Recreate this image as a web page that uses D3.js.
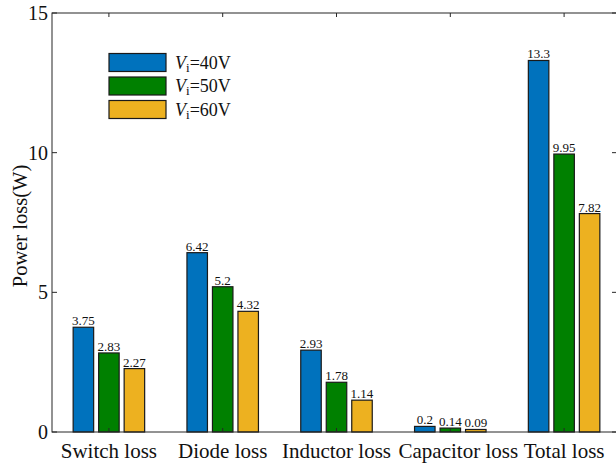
<!DOCTYPE html>
<html><head><meta charset="utf-8">
<script src="https://cdn.jsdelivr.net/npm/d3@7"></script>
<style>body{margin:0;background:#fff}svg{display:block}</style>
</head><body>
<script>
const categories = ["Switch loss","Diode loss","Inductor loss","Capacitor loss","Total loss"];
const seriesNames = ["40V","50V","60V"];
const v40 = [3.75, 6.42, 2.93, 0.2, 13.3];
const v50 = [2.83, 5.2, 1.78, 0.14, 9.95];
const v60 = [2.27, 4.32, 1.14, 0.09, 7.82];
const labels40 = ["3.75","6.42","2.93","0.2","13.3"];
const labels50 = ["2.83","5.2","1.78","0.14","9.95"];
const labels60 = ["2.27","4.32","1.14","0.09","7.82"];
const yTicks = [0,5,10,15];
const colors = ["#0072BD","#008000","#EDB120"];

const W=616,H=466;
const L=52, R=621, T=13, B=432;
const font = "'Liberation Serif','Times New Roman',serif";
const svg = d3.select("body").append("svg").attr("width",W).attr("height",H);

const x = d3.scaleBand().domain(categories).range([L,R]).paddingInner(0).paddingOuter(0);
const y = d3.scaleLinear().domain([0,15]).range([B,T]);
const sub = d3.scaleBand().domain(seriesNames).range([-35.75,35.75]).paddingInner(0.196);

const series = [v40,v50,v60];
const labs = [labels40,labels50,labels60];
const axisColor = "#262626";

series.forEach((vals,si)=>{
  const g = svg.append("g");
  g.selectAll("rect").data(vals).enter().append("rect")
    .attr("x",(d,i)=>x(categories[i])+x.bandwidth()/2+sub(seriesNames[si]))
    .attr("width",sub.bandwidth())
    .attr("y",d=>y(d))
    .attr("height",d=>B-y(d))
    .attr("fill",colors[si])
    .attr("stroke","#1a1a1a").attr("stroke-width",1.2);
  g.selectAll("text").data(vals).enter().append("text")
    .attr("x",(d,i)=>x(categories[i])+x.bandwidth()/2+sub(seriesNames[si])+sub.bandwidth()/2)
    .attr("y",d=>y(d)-2)
    .attr("text-anchor","middle")
    .attr("font-family",font).attr("font-size",13).attr("fill","#111")
    .text((d,i)=>labs[si][i]);
});

// box
svg.append("rect").attr("x",L).attr("y",T).attr("width",R-L).attr("height",B-T)
  .attr("fill","none").attr("stroke",axisColor).attr("stroke-width",1);

// y ticks left & right
const ya = svg.append("g");
yTicks.forEach(t=>{
  ya.append("line").attr("x1",L).attr("x2",L+5).attr("y1",y(t)).attr("y2",y(t)).attr("stroke",axisColor);
  ya.append("line").attr("x1",R).attr("x2",R-9).attr("y1",y(t)).attr("y2",y(t)).attr("stroke",axisColor);
  ya.append("text").attr("x",L-4).attr("y",y(t)).attr("dy","0.35em").attr("text-anchor","end")
    .attr("font-family",font).attr("font-size",20).attr("fill","#111").text(t);
});
// x ticks top & bottom
categories.forEach((c,i)=>{
  const cx = x(c)+x.bandwidth()/2;
  svg.append("line").attr("x1",cx).attr("x2",cx).attr("y1",T).attr("y2",T+4).attr("stroke",axisColor);
  svg.append("line").attr("x1",cx).attr("x2",cx).attr("y1",B).attr("y2",B-4).attr("stroke",axisColor);
  svg.append("text").attr("x",cx).attr("dx",i===3?8:0).attr("y",458).attr("text-anchor","middle")
    .attr("font-family",font).attr("font-size",21).attr("fill","#111").text(c);
});

svg.append("text").attr("transform","translate(27,226) rotate(-90)").attr("text-anchor","middle")
  .attr("font-family",font).attr("font-size",20.5).attr("fill","#111").text("Power loss(W)");

// legend
const lg = svg.append("g");
seriesNames.forEach((n,i)=>{
  const yy = 53.5 + i*23.5;
  lg.append("rect").attr("x",109).attr("y",yy).attr("width",57).attr("height",18)
    .attr("fill",colors[i]).attr("stroke","#1a1a1a").attr("stroke-width",1.2);
  const t = lg.append("text").attr("x",175).attr("y",yy+15).attr("font-family",font)
    .attr("font-size",18).attr("fill","#111");
  t.append("tspan").attr("font-style","italic").text("V");
  t.append("tspan").attr("font-size",13).attr("dy",3).text("i");
  t.append("tspan").attr("dy",-3).text("="+n);
});
</script>
</body></html>
